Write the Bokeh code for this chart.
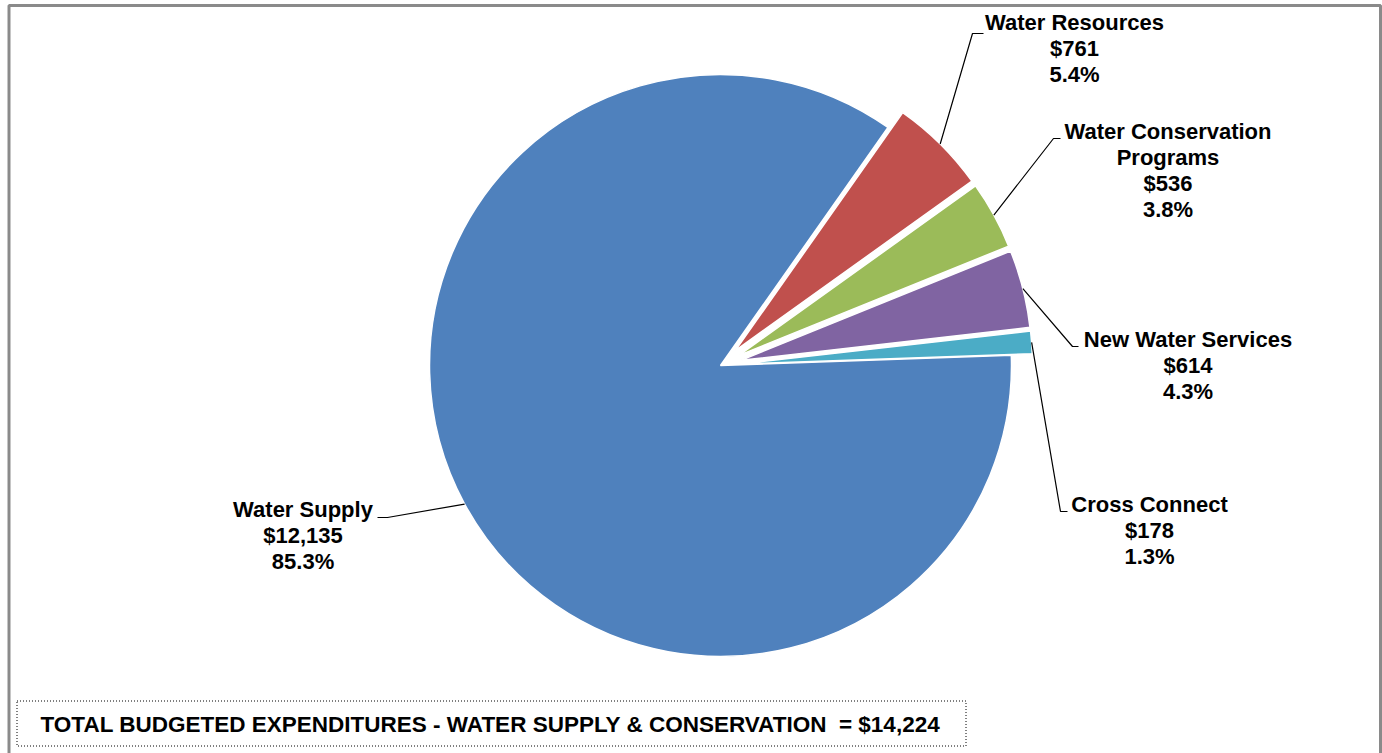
import math
from bokeh.plotting import figure
from bokeh.models import Range1d
from bokeh.core.properties import value
from bokeh.embed import file_html
from bokeh.resources import INLINE

# ---- data ----
categories = ["Water Supply", "Water Resources", "Water Conservation\nPrograms",
              "New Water Services", "Cross Connect"]
amounts = [12135, 761, 536, 614, 178]
colors = ["#4F81BD", "#C0504D", "#9BBB59", "#8064A2", "#4BACC6"]
exploded = [False, True, True, True, True]
total_title = "TOTAL BUDGETED EXPENDITURES - WATER SUPPLY & CONSERVATION"

# ---- layout (pixel-like coordinates, y measured from top) ----
W, H = 1382, 753
CX, CY = 720, 365          # pie centre (pixels from top-left)
R = 291
EXPLODE = 21
START_DEG = 2.0            # first slice starts here, drawn clockwise
FONT = "Liberation Sans"
LBL_SIZE = "22px"
LINE_STEP = 26

# label layout: (centre x, first-line centre y, elbow x, elbow y, end x)
label_layout = [
    (302.5, 509, 387, 517, 377),
    (1074, 22, 972, 33, 983),
    (1167.5, 131, 1053, 138, 1060),
    (1187.5, 338.5, 1072, 346, 1078),
    (1149, 504, 1060, 511, 1067),
]


def Y(py):
    return H - py


p = figure(width=W, height=H, x_range=Range1d(0, W), y_range=Range1d(0, H),
           output_backend="svg", toolbar_location=None, min_border=0,
           outline_line_color=None, background_fill_color="white",
           border_fill_color="white")
p.axis.visible = False
p.grid.visible = False

# chart-area frame
p.line(x=[8.5, 8.5, 1380, 1380], y=[Y(760), Y(5), Y(5), Y(760)],
       line_color="#8a8a8a", line_width=3)

total = sum(amounts)
angle = math.radians(START_DEG)
for i, (name, amt, col, ex) in enumerate(zip(categories, amounts, colors, exploded)):
    sweep = 2 * math.pi * amt / total
    a0 = angle
    a1 = angle - sweep
    mid = (a0 + a1) / 2
    cx, cy = CX, Y(CY)
    if ex:
        cx += EXPLODE * math.cos(mid)
        cy += EXPLODE * math.sin(mid)
    p.wedge(x=[cx], y=[cy], radius=R, start_angle=[a0], end_angle=[a1],
            direction="clock", fill_color=col, line_color="white", line_width=1.5)
    angle = a1

    # leader line from slice edge midpoint
    lx, ly0, ex_x, ex_y, end_x = label_layout[i]
    sx = cx + R * math.cos(mid)
    sy = cy + R * math.sin(mid)
    p.line(x=[sx, ex_x, end_x], y=[sy, Y(ex_y), Y(ex_y)],
           line_color="black", line_width=1.2)

    lines = name.split("\n") + [f"${amt:,}", f"{100 * amt / total:.1f}%"]
    for k, t in enumerate(lines):
        p.text(x=[lx], y=[Y(ly0 + k * LINE_STEP)], text=[t],
               text_font=value(FONT), text_font_style="bold",
               text_font_size=LBL_SIZE, text_align="center",
               text_baseline="middle", text_color="black")

# total box
p.quad(left=[16.5], right=[965.5], top=[Y(700.5)], bottom=[Y(745.5)],
       fill_color=None, line_color="black", line_width=1, line_dash="1 2")
p.text(x=[490], y=[Y(724)], text=[f"{total_title} \u00a0= ${total:,}"],
       text_font=value(FONT), text_font_style="bold", text_font_size="22.5px",
       text_align="center", text_baseline="middle", text_color="black")

open("out.html", "w").write(file_html(p, INLINE))
